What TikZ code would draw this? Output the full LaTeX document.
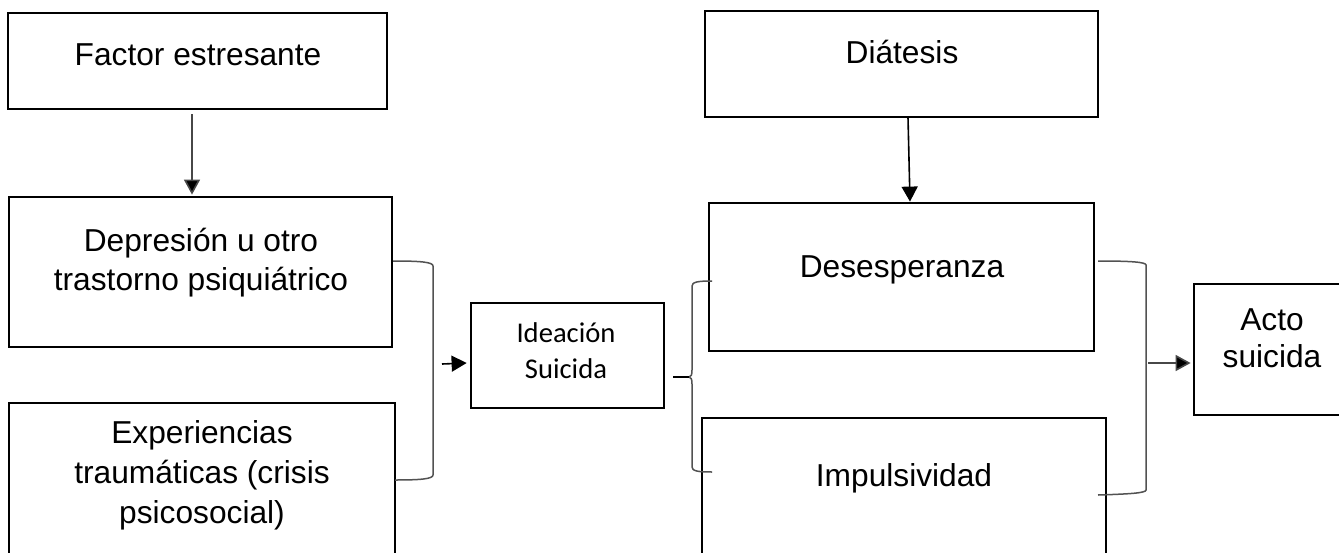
\documentclass[tikz,border=0pt]{standalone}
\usepackage{fontspec}
\setmainfont{Liberation Sans}
\newfontfamily\calf{Carlito}
\usetikzlibrary{arrows.meta}
\tikzset{
  box/.style={draw=black,line width=2.8pt,inner sep=0pt},
  lbl/.style={font=\fontsize{31.7}{38.5}\selectfont,align=center,anchor=base,inner sep=0pt},
  lblc/.style={font=\calf\fontsize{28.6}{36}\selectfont,align=center,anchor=base,inner sep=0pt},
  conn/.style={draw=black!72,line width=1.6pt,-{Triangle[width=16pt,length=15pt,fill=black]}},
  brace/.style={draw=black!68,line width=1.5pt}
}
\begin{document}
\begin{tikzpicture}[x=1pt,y=-1pt]
\useasboundingbox (0,0) rectangle (1339,552);
\clip (0,0) rectangle (1339,552);
\fill[white] (0,0) rectangle (1339,552);
% boxes
\node[box,minimum width=379pt,minimum height=96pt] (fe) at (197.5,61) {};
\node[box,minimum width=383pt,minimum height=150pt] (dep) at (200.5,272) {};
\node[box,minimum width=386pt,minimum height=197pt] (exp) at (202,501.5) {};
\node[box,minimum width=193pt,minimum height=105pt] (ide) at (567.5,355.5) {};
\node[box,minimum width=393pt,minimum height=106pt] (dia) at (901.5,64) {};
\node[box,minimum width=385pt,minimum height=148pt] (des) at (901.5,277) {};
\node[box,minimum width=404pt,minimum height=182pt] (imp) at (904,509) {};
\node[box,minimum width=186pt,minimum height=131pt] (act) at (1287,349.5) {};
% labels (anchor base = baseline of the last line)
\node[lbl] (tfe) at (198,65) {Factor estresante};
\node[lbl] (tdep) at (201,290) {Depresión u otro\\trastorno psiquiátrico};
\node[lbl,font=\fontsize{31.7}{40}\selectfont] (texp) at (202,523) {Experiencias\\traumáticas (crisis\\psicosocial)};
\node[lblc] (tide) at (566,378) {Ideación\\Suicida};
\node[lbl] (tdia) at (902,63) {Diátesis};
\node[lbl] (tdes) at (902,277) {Desesperanza};
\node[lbl] (timp) at (904,486) {Impulsividad};
\node[lbl,font=\fontsize{31.7}{37}\selectfont] (tact) at (1272,367) {Acto\\suicida};
% arrows
\draw[conn] ([shift={(-5.5,4)}]fe.south) -- ([shift={(-8.5,-1)}]dep.north);
\draw[conn,draw=black] ([shift={(6.5,-1)}]dia.south) -- ([xshift=8.5]des.north);
% brace 1
\coordinate (b1t) at (393,261);
\coordinate (b1b) at (395,480);
\coordinate (b1m) at (442,364);
\draw[brace] (b1t) .. controls (420,261) and (433,262) .. (433,266) -- (433,475) .. controls (433,479) and (420,480) .. (b1b);
\draw[conn,draw=black] (b1m) -- ([shift={(-3,7.5)}]ide.west);
% brace 2
\coordinate (b2c) at (689,377);
\coordinate (b2t) at (712,281);
\coordinate (b2b) at (712,472);
\draw[brace] (b2t) .. controls (698,281) and (692,282) .. (692,286) -- (692,370) .. controls (692,375) and (691,377) .. (b2c) .. controls (691,377) and (692,379) .. (692,384) -- (692,467) .. controls (692,471) and (698,472) .. (b2b);
\draw[black,line width=2pt] ([shift={(8,21.5)}]ide.east) -- (b2c);
% brace 3
\coordinate (b3t) at (1098,261);
\coordinate (b3b) at (1098,495);
\coordinate (b3m) at (1148,363);
\draw[brace] (b3t) .. controls (1130,261) and (1146,262) .. (1146,265) -- (1146,490) .. controls (1146,493) and (1130,494) .. (b3b);
\draw[conn] (b3m) -- ([shift={(-2,13.5)}]act.west);
\end{tikzpicture}
\end{document}
